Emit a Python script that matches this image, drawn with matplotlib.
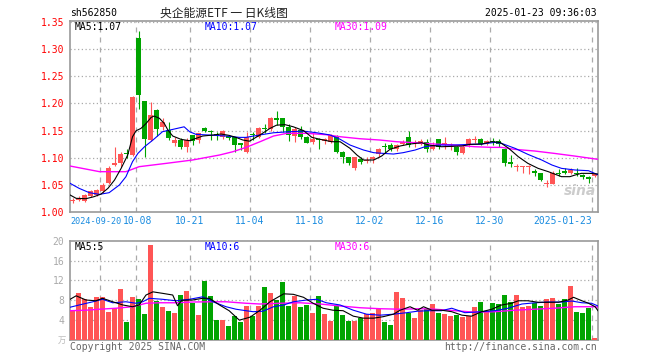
import matplotlib
matplotlib.use("Agg")
import matplotlib.pyplot as plt

# ---- data (index 0 = first trading day shown) ----
opens = [1.0200, 1.022, 1.021, 1.0295, 1.032, 1.038, 1.054, 1.0866, 1.0896, 1.108,
         1.105, 1.3205, 1.2044, 1.1326, 1.1879, 1.156, 1.151, 1.1277, 1.1326, 1.120,
         1.1412, 1.1326, 1.154, 1.1498, 1.1424, 1.1375, 1.140, 1.1375, 1.1265, 1.111,
         1.1437, 1.1375, 1.1545, 1.1523, 1.1725, 1.1725, 1.157, 1.1406, 1.151, 1.1388,
         1.1295, 1.1338, 1.1314, 1.1295, 1.140, 1.111, 1.1007, 1.0805, 1.0976, 1.094,
         1.097, 1.1068, 1.1216, 1.1234, 1.1154, 1.1252, 1.1375, 1.1265, 1.1252, 1.1295,
         1.1154, 1.134, 1.1252, 1.119, 1.1191, 1.1093, 1.1234, 1.1326, 1.134, 1.1252,
         1.1301, 1.1314, 1.116, 1.0921, 1.0835, 1.0833, 1.0835, 1.0761, 1.0712, 1.0516,
         1.0516, 1.0712, 1.0761, 1.0712, 1.0712, 1.0681, 1.0651, 1.0663]
highs = [1.025, 1.030, 1.034, 1.040, 1.043, 1.054, 1.084, 1.119, 1.111, 1.116,
         1.214, 1.333, 1.2050, 1.203, 1.1897, 1.174, 1.165, 1.139, 1.136, 1.136,
         1.1425, 1.146, 1.156, 1.151, 1.1479, 1.151, 1.1418, 1.1387, 1.1277, 1.148,
         1.147, 1.157, 1.1615, 1.1744, 1.1866, 1.1730, 1.1615, 1.157, 1.158, 1.140,
         1.145, 1.137, 1.137, 1.1437, 1.1418, 1.113, 1.102, 1.102, 1.1007, 1.102,
         1.103, 1.1185, 1.1265, 1.1277, 1.125, 1.132, 1.149, 1.1326, 1.134, 1.134,
         1.1295, 1.135, 1.1375, 1.1265, 1.1216, 1.1234, 1.1357, 1.140, 1.1357, 1.133,
         1.1369, 1.134, 1.1173, 1.105, 1.0884, 1.0847, 1.0866, 1.0786, 1.0724, 1.0589,
         1.0761, 1.0786, 1.0804, 1.0804, 1.0804, 1.070, 1.0663, 1.0712]
lows = [1.016, 1.020, 1.018, 1.027, 1.029, 1.035, 1.052, 1.085, 1.083, 1.100,
        1.103, 1.190, 1.1007, 1.131, 1.140, 1.152, 1.132, 1.1216, 1.117, 1.111,
        1.123, 1.128, 1.148, 1.133, 1.1326, 1.135, 1.1326, 1.111, 1.1142, 1.109,
        1.1326, 1.136, 1.145, 1.150, 1.160, 1.148, 1.131, 1.1295, 1.134, 1.1265,
        1.1252, 1.117, 1.1246, 1.1265, 1.108, 1.0896, 1.0866, 1.0774, 1.0878, 1.0896,
        1.091, 1.1007, 1.109, 1.113, 1.113, 1.1228, 1.1203, 1.1203, 1.1234, 1.111,
        1.1142, 1.1154, 1.1154, 1.1142, 1.1044, 1.1068, 1.1203, 1.1277, 1.1228, 1.1228,
        1.1234, 1.1203, 1.0847, 1.0835, 1.0761, 1.0724, 1.070, 1.0663, 1.0577, 1.0454,
        1.0516, 1.0663, 1.070, 1.070, 1.0663, 1.0602, 1.0528, 1.0651]
closes = [1.0212, 1.025, 1.032, 1.038, 1.0405, 1.049, 1.0816, 1.0908, 1.1068, 1.107,
          1.2118, 1.216, 1.1338, 1.1786, 1.1535, 1.1658, 1.137, 1.1326, 1.120, 1.1326,
          1.1308, 1.145, 1.1498, 1.147, 1.1412, 1.149, 1.1363, 1.1234, 1.1234, 1.1375,
          1.1425, 1.1553, 1.1535, 1.1725, 1.1695, 1.157, 1.142, 1.1523, 1.1375, 1.1277,
          1.1338, 1.1326, 1.1338, 1.1418, 1.111, 1.1007, 1.091, 1.1007, 1.0927, 1.0958,
          1.1007, 1.1154, 1.119, 1.1154, 1.1234, 1.1295, 1.1234, 1.1295, 1.1314, 1.1154,
          1.1234, 1.1203, 1.1265, 1.1216, 1.1111, 1.1203, 1.134, 1.134, 1.1252, 1.1314,
          1.1289, 1.1252, 1.0908, 1.0884, 1.0847, 1.0847, 1.0847, 1.0724, 1.059, 1.0528,
          1.0712, 1.070, 1.0724, 1.0774, 1.070, 1.0651, 1.0602, 1.070]
volumes = [6.0, 9.5, 8.2, 6.6, 8.6, 8.6, 5.6, 6.5, 10.2, 3.6,
           8.6, 8.2, 5.2, 19.2, 7.8, 6.6, 5.8, 5.4, 9.0, 9.8,
           7.4, 5.0, 11.8, 8.8, 4.0, 4.0, 2.8, 4.8, 3.7, 6.8,
           4.9, 6.8, 10.6, 9.5, 8.0, 11.6, 6.8, 8.9, 6.6, 7.0,
           5.4, 8.8, 5.2, 3.9, 6.8, 5.0, 3.8, 3.8, 4.4, 5.2,
           5.4, 6.2, 3.6, 3.0, 9.6, 8.4, 5.4, 4.4, 6.0, 6.2,
           7.2, 5.4, 5.2, 4.8, 5.0, 4.6, 4.8, 6.6, 7.6, 5.8,
           7.4, 7.2, 9.0, 7.6, 9.0, 6.6, 6.8, 7.4, 6.8, 8.2,
           8.4, 7.2, 8.2, 10.8, 5.6, 5.4, 6.4, 0.4]

# moving average lines (x = day index)
ma5_x = [-0.4, 0.6, 2.25, 3.6, 4.75, 5.9, 7, 8.1, 9.2, 10, 10.6, 11.4, 12.25, 13.1, 13.6,
         14.5, 15.3, 15.9, 16.7, 18.1, 19.5, 20.6, 21.7, 23.4, 24.75, 26.1, 27.25, 28.4,
         29.5, 31.25, 32.9, 34, 35.4, 36.8, 38.5, 39.9, 41.25, 43.2, 44.6, 46.25, 47.4,
         48.5, 50.2, 51.5, 52.9, 54.6, 56.2, 58.2, 59.4, 61.5, 64.9, 66.25, 68.2, 69.9,
         71.25, 72.7, 74.3, 75.9, 77.6, 79.3, 81.5, 82.9, 83.75, 84.8, 86.2, 87.58]
ma5_y = [1.0313, 1.0252, 1.0245, 1.0283, 1.033, 1.0436, 1.0589, 1.0804, 1.105, 1.1387,
         1.1498, 1.154, 1.163, 1.1743, 1.1768, 1.1725, 1.163, 1.151, 1.14, 1.1338,
         1.1314, 1.1357, 1.14, 1.1418, 1.1437, 1.1412, 1.1375, 1.1326, 1.1305, 1.142,
         1.154, 1.160, 1.161, 1.157, 1.150, 1.1375, 1.134, 1.1295, 1.1295, 1.1173,
         1.105, 1.0958, 1.0958, 1.103, 1.1154, 1.1216, 1.1252, 1.1277, 1.1234, 1.1203,
         1.1216, 1.1246, 1.1252, 1.1295, 1.1283, 1.1173, 1.1019, 1.0896, 1.0804, 1.0743,
         1.0651, 1.0651, 1.0681, 1.0712, 1.0712, 1.070]
ma10_x = [-0.4, 1.1, 2.8, 4.5, 6.1, 7.8, 8.9, 10, 10.9, 12, 13.4, 15, 16.7, 18.6, 19.5,
          20.6, 22.8, 25.6, 27.8, 28.9, 31.25, 33.5, 36.25, 38.5, 40.7, 42.9, 44.6, 46.25,
          48.5, 50.2, 51.8, 53.5, 55.1, 57.1, 58.75, 61, 63.75, 66, 68.2, 70.4, 71.5,
          73.75, 75.9, 78.2, 79.9, 81.5, 83.75, 86, 87.58]
ma10_y = [1.0528, 1.0436, 1.0356, 1.0325, 1.0356, 1.0497, 1.065, 1.0927, 1.108, 1.1203,
          1.1326, 1.148, 1.1522, 1.157, 1.148, 1.143, 1.1418, 1.14, 1.1375, 1.1375,
          1.142, 1.146, 1.148, 1.149, 1.146, 1.142, 1.134, 1.1234, 1.1142, 1.1093,
          1.108, 1.1068, 1.1093, 1.1142, 1.1203, 1.1234, 1.1234, 1.1246, 1.1252, 1.1283,
          1.1265, 1.1173, 1.1062, 1.0958, 1.0866, 1.0804, 1.0774, 1.0761, 1.0685]
ma30_x = [-0.4, 4.5, 8.9, 11.1, 15.6, 20, 24.5, 26.7, 28.9, 31.25, 33.5, 35.75, 39, 42.3,
          44.6, 47.9, 51.25, 54, 57.1, 60.4, 63.75, 67, 69.9, 71.5, 73.75, 77, 80.3,
          83.75, 87.58]
ma30_y = [1.0847, 1.0743, 1.0743, 1.0835, 1.0896, 1.0958, 1.105, 1.111, 1.119, 1.1295,
          1.140, 1.145, 1.145, 1.1424, 1.1387, 1.135, 1.1326, 1.1295, 1.1277, 1.1252,
          1.1234, 1.1203, 1.1191, 1.1191, 1.1154, 1.1124, 1.108, 1.103, 1.097]

vma5_x = [-0.4, 0.6, 2.25, 3.9, 5, 6.7, 8.4, 10, 11.1, 12.25, 13.4, 15, 16.7, 17.5, 18.2,
          20, 21.7, 22.8, 24.5, 26.1, 27.8, 29.6, 31.25, 32.9, 35.2, 36.8, 38.5, 40.1,
          41.75, 43.4, 45.1, 46.8, 48.5, 50.2, 51.8, 53.5, 54.6, 56.25, 57.5, 58.5, 59.9,
          61.5, 63.2, 64.9, 66.5, 68.2, 69.9, 71.5, 73.2, 74.3, 75.9, 77.6, 79.3, 81,
          82.6, 83.5, 84.9, 86, 87.1, 87.58]
vma5_y = [8.2, 8.9, 8.05, 7.9, 8.4, 7.7, 7.05, 6.7, 7.05, 9.06, 9.7, 9.4, 9.06, 6.9, 8.0,
          8.05, 8.4, 8.4, 7.05, 5.9, 4.0, 4.6, 6.0, 7.7, 9.3, 9.2, 8.6, 7.4, 6.4, 6.0,
          5.9, 4.8, 4.4, 4.4, 4.7, 5.2, 6.0, 6.7, 6.0, 6.7, 6.0, 6.0, 5.7, 5.0, 4.8, 5.7,
          6.2, 7.05, 7.4, 7.9, 7.9, 7.6, 7.6, 7.6, 8.05, 8.6, 7.9, 7.4, 6.7, 5.9]
vma10_x = [-0.4, 1.1, 3.4, 5, 6.7, 8.9, 10.6, 11.7, 12.8, 15, 17.25, 19.5, 21.7, 23.4,
           25.6, 27.25, 28.9, 30.1, 31.75, 33.5, 35.2, 36.8, 39, 40.7, 42.3, 44.6, 46.8,
           49, 51.25, 53.5, 55.7, 57.5, 59.3, 61.5, 63.2, 65.4, 68.2, 70.4, 72.6, 74.9,
           77.1, 79.3, 81.5, 83.2, 84.9, 86.5, 87.58]
vma10_y = [6.6, 7.05, 7.7, 8.2, 7.5, 7.7, 7.4, 7.7, 8.4, 8.2, 7.9, 8.2, 8.7, 7.7, 6.7,
           6.2, 5.9, 5.7, 5.8, 6.7, 7.05, 7.7, 8.05, 8.2, 7.5, 7.05, 6.0, 5.2, 5.0, 5.2,
           5.5, 5.8, 5.9, 5.9, 6.4, 5.5, 5.7, 5.9, 6.4, 7.25, 7.5, 7.65, 7.65, 7.85, 7.5,
           7.4, 6.85]
vma30_x = [-0.4, 2.25, 4.5, 7.25, 10, 12.25, 14.5, 17.25, 20, 23.4, 25.6, 28.9, 31.25,
           34.6, 37.9, 41.25, 44.6, 47.9, 51.25, 54.6, 57.9, 60.4, 63.75, 67, 70.4,
           73.75, 77, 80.3, 83.75, 87.1, 87.58]
vma30_y = [5.9, 6.0, 6.2, 6.4, 6.7, 7.4, 7.5, 7.5, 7.65, 7.7, 7.7, 7.4, 7.25, 7.4, 7.5,
           7.25, 6.85, 6.5, 6.3, 6.2, 6.3, 6.2, 5.9, 5.6, 5.7, 6.0, 6.2, 6.4, 6.7, 6.7, 6.6]

date_idx = [5, 11, 20, 30, 40, 50, 60, 70, 87]
date_labels = ["2024-09-20", "10-08", "10-21", "11-04", "11-18", "12-02", "12-16",
               "12-30", "2025-01-23"]
price_ticks = [1.00, 1.05, 1.10, 1.15, 1.20, 1.25, 1.30, 1.35]
vol_ticks = [4, 8, 12, 16, 20]

RED = "#ff5555"
GREEN = "#00a400"
GRID = "#aaaaaa"
FRAME = "#999999"
MONO = "DejaVu Sans Mono"
W, H = 660, 360

fig = plt.figure(figsize=(6.6, 3.6), dpi=100)
fig.patch.set_facecolor("white")


def fpos(x, y):
    return x / W, 1 - y / H


XL = (-0.42, 87.58)
ax = fig.add_axes([70 / W, 1 - 212 / H, 528 / W, 191.3 / H])
axv = fig.add_axes([70 / W, 1 - 340 / H, 528 / W, 99.3 / H])

n = len(closes)
colors = [RED if closes[i] >= opens[i] else GREEN for i in range(n)]

# candles
for i in range(n):
    ax.vlines(i, lows[i], highs[i], color=colors[i], lw=0.8, zorder=3)
    lo = min(opens[i], closes[i])
    h = max(abs(closes[i] - opens[i]), 0.0018)
    ax.bar(i, h, bottom=lo, width=0.8, color=colors[i], lw=0, zorder=4)

ax.plot(ma30_x, ma30_y, color="#ff00ff", lw=1.0, zorder=5)
ax.plot(ma10_x, ma10_y, color="#0000ff", lw=0.8, zorder=6)
ax.plot(ma5_x, ma5_y, color="black", lw=0.8, zorder=7)

# volume
axv.bar(range(n), volumes, width=0.8, color=colors, lw=0, zorder=3)
axv.plot(vma30_x, vma30_y, color="#ff00ff", lw=1.0, zorder=5)
axv.plot(vma10_x, vma10_y, color="#0000ff", lw=0.8, zorder=6)
axv.plot(vma5_x, vma5_y, color="black", lw=0.8, zorder=7)

for a in (ax, axv):
    a.set_xlim(*XL)
    for s in a.spines.values():
        s.set_color(FRAME)
        s.set_linewidth(1.2)
    a.set_xticks([])
    for k in date_idx:
        a.axvline(k - 0.42, color=GRID, lw=0.9, ls=(0, (4, 4)), zorder=1)

ax.set_ylim(1.0, 1.3525)
ax.set_yticks(price_ticks)
ax.set_yticklabels([f"{v:.2f}" for v in price_ticks], color="red",
                   fontfamily=MONO, fontsize=7)
ax.tick_params(axis="y", length=0, pad=4)
for v in price_ticks[1:-1]:
    ax.axhline(v, color=GRID, lw=0.9, ls=(0, (1, 2)), zorder=1)
ax.axhline(1.35, color=GRID, lw=0.9, ls=(0, (1, 2)), zorder=1)

axv.set_ylim(0, 20)
axv.set_yticks(vol_ticks)
axv.set_yticklabels([str(v) for v in vol_ticks], color="#aaaaaa",
                    fontfamily=MONO, fontsize=7)
axv.tick_params(axis="y", length=0, pad=4)
for v in vol_ticks[:-1]:
    axv.axhline(v, color=GRID, lw=0.9, ls=(0, (1, 2)), zorder=1)

# date labels under price panel (first and last are clamped to the frame)
for k, lab in zip(date_idx, date_labels):
    size = 7
    if k == date_idx[0]:
        x, ha, size = 70, "left", 6.1
    elif k == date_idx[-1]:
        x, ha = 592, "right"
    else:
        x, ha = 70 + 6 * k + (1.5 if k == date_idx[1] else 0), "center"
    fig.text(*fpos(x, 221), lab, ha=ha, va="center", color="#1a8ce0",
             fontfamily=MONO, fontsize=size)

# header
fig.text(*fpos(70, 13), "sh562850", ha="left", va="center", fontfamily=MONO,
         fontsize=7, color="black")
fig.text(*fpos(224, 13), "央企能源ETF 一 日K线图", ha="center", va="center",
         fontfamily=["Noto Sans CJK SC", "DejaVu Sans"], fontsize=8.5, color="#222222")
fig.text(*fpos(597, 13), "2025-01-23 09:36:03", ha="right", va="center",
         fontfamily=MONO, fontsize=7, color="black")

# legends
fig.text(*fpos(75, 27), "MA5:1.07", ha="left", va="center", fontfamily=MONO,
         fontsize=7, color="black")
fig.text(*fpos(205, 27), "MA10:1.07", ha="left", va="center", fontfamily=MONO,
         fontsize=7, color="#0000ff")
fig.text(*fpos(335, 27), "MA30:1.09", ha="left", va="center", fontfamily=MONO,
         fontsize=7, color="#ff00ff")
fig.text(*fpos(75, 247), "MA5:5", ha="left", va="center", fontfamily=MONO,
         fontsize=7, color="black")
fig.text(*fpos(205, 247), "MA10:6", ha="left", va="center", fontfamily=MONO,
         fontsize=7, color="#0000ff")
fig.text(*fpos(335, 247), "MA30:6", ha="left", va="center", fontfamily=MONO,
         fontsize=7, color="#ff00ff")

# footer
fig.text(*fpos(66, 340), "万", ha="right", va="center",
         fontfamily=["Noto Sans CJK SC", "DejaVu Sans"], fontsize=6, color="#bbbbbb")
fig.text(*fpos(70, 347), "Copyright 2025 SINA.COM", ha="left", va="center",
         fontfamily=MONO, fontsize=7, color="#666666")
fig.text(*fpos(597, 347), "http://finance.sina.com.cn", ha="right", va="center",
         fontfamily=MONO, fontsize=7, color="#666666")

# sina watermark
fig.text(*fpos(580, 191), "sina", ha="center", va="center", fontsize=10,
         fontweight="bold", fontstyle="italic", color="#cccccc", zorder=10)

fig.savefig("out.png", dpi=100)
